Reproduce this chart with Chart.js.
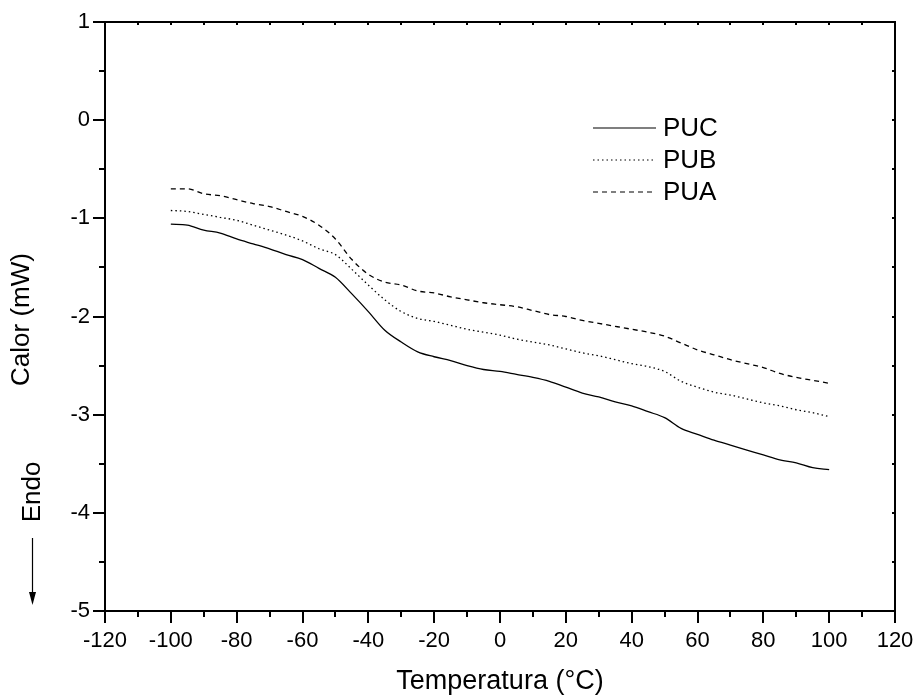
<!DOCTYPE html>
<html><head><meta charset="utf-8">
<script src="https://cdn.jsdelivr.net/npm/chart.js@4"></script>
<style>html,body{margin:0;padding:0;background:#fff;overflow:hidden}#wrap{width:915px;height:697px}</style>
</head><body><div id="wrap"><canvas id="c" width="915" height="697"></canvas></div>
<script>
const temperatures = [-100,-95,-90,-85,-80,-75,-70,-65,-60,-55,-50,-45,-40,-35,-30,-25,-20,-15,-10,-5,0,5,10,15,20,25,30,35,40,45,50,55,60,65,70,75,80,85,90,95,100];
const pucValues = [-1.06,-1.07,-1.12,-1.15,-1.21,-1.26,-1.31,-1.37,-1.42,-1.51,-1.60,-1.77,-1.95,-2.14,-2.26,-2.36,-2.41,-2.45,-2.50,-2.54,-2.56,-2.59,-2.62,-2.66,-2.72,-2.78,-2.82,-2.87,-2.91,-2.97,-3.03,-3.14,-3.20,-3.26,-3.31,-3.36,-3.41,-3.46,-3.49,-3.54,-3.56];
const pubValues = [-0.92,-0.93,-0.96,-0.99,-1.02,-1.07,-1.12,-1.17,-1.23,-1.31,-1.37,-1.52,-1.68,-1.83,-1.95,-2.02,-2.05,-2.09,-2.13,-2.16,-2.19,-2.23,-2.26,-2.29,-2.33,-2.37,-2.40,-2.44,-2.48,-2.51,-2.56,-2.66,-2.72,-2.77,-2.80,-2.84,-2.88,-2.91,-2.95,-2.98,-3.02];
const puaValues = [-0.70,-0.70,-0.75,-0.77,-0.81,-0.85,-0.88,-0.93,-0.98,-1.07,-1.21,-1.42,-1.57,-1.65,-1.68,-1.74,-1.76,-1.80,-1.83,-1.86,-1.88,-1.90,-1.94,-1.98,-2.00,-2.04,-2.07,-2.10,-2.13,-2.16,-2.20,-2.27,-2.34,-2.39,-2.44,-2.48,-2.52,-2.58,-2.62,-2.65,-2.68];
const seriesNames = ['PUC','PUB','PUA'];
const xTickValues = [-120,-100,-80,-60,-40,-20,0,20,40,60,80,100,120];
const yTickValues = [1,0,-1,-2,-3,-4,-5];
const xTitle = 'Temperatura (°C)';
const yTitle = 'Calor (mW)';
const endoLabel = 'Endo';

const FONT = '"Liberation Sans", Arial, sans-serif';
const toPts = vals => temperatures.map((t, i) => ({x: t, y: vals[i]}));
const dashes = [[], [1.5, 3], [5, 4]];
const seriesValues = [pucValues, pubValues, puaValues];

const framePlugin = {
  id: 'frame',
  afterDraw(chart) {
    const ctx = chart.ctx, a = chart.chartArea;
    const xs = chart.scales.x, ys = chart.scales.y;
    ctx.save();
    ctx.strokeStyle = '#000';
    ctx.lineWidth = 2;
    ctx.strokeRect(a.left, a.top, a.right - a.left, a.bottom - a.top);
    ctx.beginPath();
    for (let v = xs.min; v <= xs.max + 1e-9; v += 10) {
      const px = Math.round(xs.getPixelForValue(v));
      const major = xTickValues.includes(Math.round(v));
      ctx.moveTo(px, a.bottom); ctx.lineTo(px, a.bottom + (major ? 12 : 6));
      ctx.moveTo(px, a.top); ctx.lineTo(px, a.top + 3);
    }
    for (let v = ys.min; v <= ys.max + 1e-9; v += 0.5) {
      const py = Math.round(ys.getPixelForValue(v));
      const major = Math.abs(v - Math.round(v)) < 1e-6;
      ctx.moveTo(a.left, py); ctx.lineTo(a.left - (major ? 12 : 6), py);
      ctx.moveTo(a.right, py); ctx.lineTo(a.right - 3, py);
    }
    ctx.stroke();

    ctx.fillStyle = '#000';
    ctx.textAlign = 'center';
    ctx.textBaseline = 'middle';
    ctx.font = '27px ' + FONT;
    ctx.fillText(xTitle, (a.left + a.right) / 2, 682);
    ctx.font = '26px ' + FONT;
    ctx.save();
    ctx.translate(22, (a.top + a.bottom) / 2 + 3);
    ctx.rotate(-Math.PI / 2);
    ctx.fillText(yTitle, 0, 0);
    ctx.restore();
    ctx.save();
    ctx.translate(33, 492);
    ctx.rotate(-Math.PI / 2);
    ctx.fillText(endoLabel, 0, 0);
    ctx.restore();
    ctx.lineWidth = 1.2;
    ctx.beginPath();
    ctx.moveTo(32.5, 538); ctx.lineTo(32.5, 596);
    ctx.stroke();
    ctx.beginPath();
    ctx.moveTo(29, 592); ctx.lineTo(36, 592); ctx.lineTo(32.5, 605); ctx.closePath();
    ctx.fill();

    ctx.textAlign = 'left';
    const rows = [128, 160, 192];
    chart.data.datasets.forEach((ds, i) => {
      ctx.save();
      ctx.lineWidth = 1.2;
      ctx.setLineDash(ds.borderDash || []);
      ctx.beginPath();
      ctx.moveTo(593, rows[i]); ctx.lineTo(656, rows[i]);
      ctx.stroke();
      ctx.restore();
      ctx.fillText(ds.label, 663, rows[i] + 1);
    });
    ctx.restore();
  }
};

new Chart(document.getElementById('c'), {
  type: 'line',
  data: {
    datasets: seriesNames.map((name, i) => ({
      label: name,
      data: toPts(seriesValues[i]),
      borderColor: '#000',
      borderWidth: 1.3,
      borderDash: dashes[i],
      pointRadius: 0,
      fill: false,
      cubicInterpolationMode: 'monotone'
    }))
  },
  options: {
    responsive: false,
    animation: false,
    devicePixelRatio: 1,
    layout: {padding: {left: 0, right: 20, top: 22, bottom: 0}},
    plugins: {legend: {display: false}, tooltip: {enabled: false}},
    scales: {
      x: {
        type: 'linear', min: -120, max: 120,
        afterFit(s) { s.height = 86; s.paddingLeft = 0; s.paddingRight = 0; },
        afterBuildTicks(s) { s.ticks = xTickValues.map(v => ({value: v})); },
        grid: {display: false, drawTicks: false},
        border: {display: false},
        ticks: {padding: 17, color: '#000', font: {family: FONT, size: 22}, maxRotation: 0, autoSkip: false,
          callback: v => String(v)}
      },
      y: {
        type: 'linear', min: -5, max: 1,
        afterFit(s) { s.width = 105; s.paddingTop = 0; s.paddingBottom = 0; },
        afterBuildTicks(s) { s.ticks = yTickValues.map(v => ({value: v})); },
        grid: {display: false, drawTicks: false},
        border: {display: false},
        ticks: {padding: 15, color: '#000', font: {family: FONT, size: 22}, autoSkip: false,
          callback: v => String(v)}
      }
    }
  },
  plugins: [framePlugin]
});
</script>
</body></html>
